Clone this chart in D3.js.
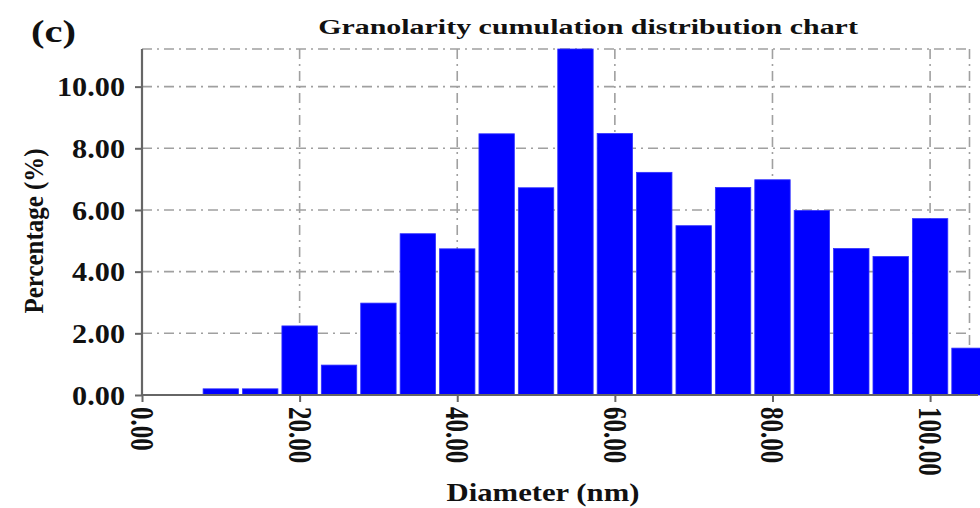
<!DOCTYPE html>
<html>
<head>
<meta charset="utf-8">
<script src="https://cdn.jsdelivr.net/npm/d3@7"></script>
<style>
  html, body { margin: 0; padding: 0; background: #fff; }
  svg { display: block; }
  text { font-family: "Liberation Serif", "Times New Roman", serif; font-weight: bold; fill: #111; }
</style>
</head>
<body>
<svg id="chart" width="980" height="508"></svg>
<script>
// ---- data ----
const binCenters = [10, 15, 20, 25, 30, 35, 40, 45, 50, 55, 60, 65, 70, 75, 80, 85, 90, 95, 100, 105];
const percentages = [0.20, 0.20, 2.24, 0.97, 2.98, 5.23, 4.74, 8.47, 6.72, 11.3, 8.48, 7.22, 5.49, 6.73, 6.98, 5.98, 4.75, 4.49, 5.72, 1.52];
const binWidth = 5;
const yTicks = [0, 2, 4, 6, 8, 10];
const xTicks = [0, 20, 40, 60, 80, 100];
const titleText = "Granolarity cumulation distribution chart";
const panelLabel = "(c)";
const xTitle = "Diameter (nm)";
const yTitle = "Percentage (%)";

// ---- layout ----
const svg = d3.select("#chart");
const mLeft = 142, mRight = 969.5, mTop = 49, mBottom = 395;
const yMax = 11.22, xMax = 105;
const x = d3.scaleLinear().domain([0, xMax]).range([mLeft, mRight]);
const y = d3.scaleLinear().domain([0, yMax]).range([mBottom, mTop]);

const fmt = d3.format(".2f");
const gridColor = "#a0a0a0";
const dash = "10,5,2,5";

// grid (horizontal)
const grid = svg.append("g").attr("class", "grid");
grid.selectAll("line.h").data(yTicks.filter(d => d > 0).concat([yMax])).join("line")
  .attr("class", "h")
  .attr("x1", mLeft).attr("x2", mRight)
  .attr("y1", d => y(d)).attr("y2", d => y(d))
  .attr("stroke", gridColor).attr("stroke-width", 1.6).attr("stroke-dasharray", dash);
// grid (vertical)
grid.selectAll("line.v").data(xTicks.filter(d => d > 0).concat([xMax])).join("line")
  .attr("class", "v")
  .attr("x1", d => x(d)).attr("x2", d => x(d))
  .attr("y1", mTop).attr("y2", mBottom)
  .attr("stroke", gridColor).attr("stroke-width", 1.6).attr("stroke-dasharray", dash);

// bars
svg.append("g").selectAll("rect").data(binCenters).join("rect")
  .attr("x", (d) => x(d - binWidth / 2) + 2)
  .attr("width", () => x(binWidth) - x(0) - 4)
  .attr("y", (d, i) => Math.max(y(percentages[i]), mTop))
  .attr("height", (d, i) => mBottom - Math.max(y(percentages[i]), mTop))
  .attr("fill", "#0000ff")
  .attr("stroke", "#3030ff").attr("stroke-width", 0.8);

// axes
const yAxis = d3.axisLeft(y).tickValues(yTicks).tickFormat(fmt).tickSize(7).tickPadding(10);
const gy = svg.append("g").attr("transform", `translate(${mLeft},0)`).call(yAxis);
gy.select(".domain").remove();
gy.selectAll(".tick line").attr("stroke", "#666").attr("stroke-width", 2);
gy.selectAll(".tick text").attr("font-size", 27).attr("font-family", null).attr("fill", "#111")
  .attr("dy", "0.34em").attr("x", 0).attr("text-anchor", "end")
  .attr("transform", "translate(-17,0) scale(1.12,1)");

const xAxis = d3.axisBottom(x).tickValues(xTicks).tickFormat(fmt).tickSize(7);
const gx = svg.append("g").attr("transform", `translate(0,${mBottom})`).call(xAxis);
gx.select(".domain").remove();
gx.selectAll(".tick line").attr("stroke", "#666").attr("stroke-width", 2);
gx.selectAll(".tick text").attr("font-size", 25).attr("font-family", null).attr("fill", "#111")
  .attr("text-anchor", "start").attr("y", 0).attr("dy", "0.34em")
  .attr("transform", "translate(0,12) scale(1.35,1) rotate(90)");

// axis lines
svg.append("line").attr("x1", mLeft).attr("x2", mLeft).attr("y1", mTop).attr("y2", mBottom + 1)
  .attr("stroke", "#666").attr("stroke-width", 2.2);
svg.append("line").attr("x1", mLeft - 1).attr("x2", 978).attr("y1", mBottom).attr("y2", mBottom)
  .attr("stroke", "#666").attr("stroke-width", 2.2);

// title
const title = svg.append("text").attr("font-size", 22).attr("text-anchor", "middle").text(titleText);
{
  const w = title.node().getComputedTextLength();
  title.attr("transform", `translate(588,34) scale(${540 / w},1)`);
}
// panel label
const pl = svg.append("text").attr("font-size", 32).text(panelLabel);
{
  const w = pl.node().getComputedTextLength();
  pl.attr("transform", `translate(31,42) scale(${45 / w},1)`);
}
// x title
const xt = svg.append("text").attr("font-size", 25).attr("text-anchor", "middle").text(xTitle);
{
  const w = xt.node().getComputedTextLength();
  xt.attr("transform", `translate(543,501) scale(${193 / w},1)`);
}
// y title
const yt = svg.append("text").attr("font-size", 23).attr("text-anchor", "middle").text(yTitle);
{
  const w = yt.node().getComputedTextLength();
  yt.attr("transform", `translate(43,231) scale(1.15,1) rotate(-90) scale(${165 / w},1)`);
}
</script>
</body>
</html>
